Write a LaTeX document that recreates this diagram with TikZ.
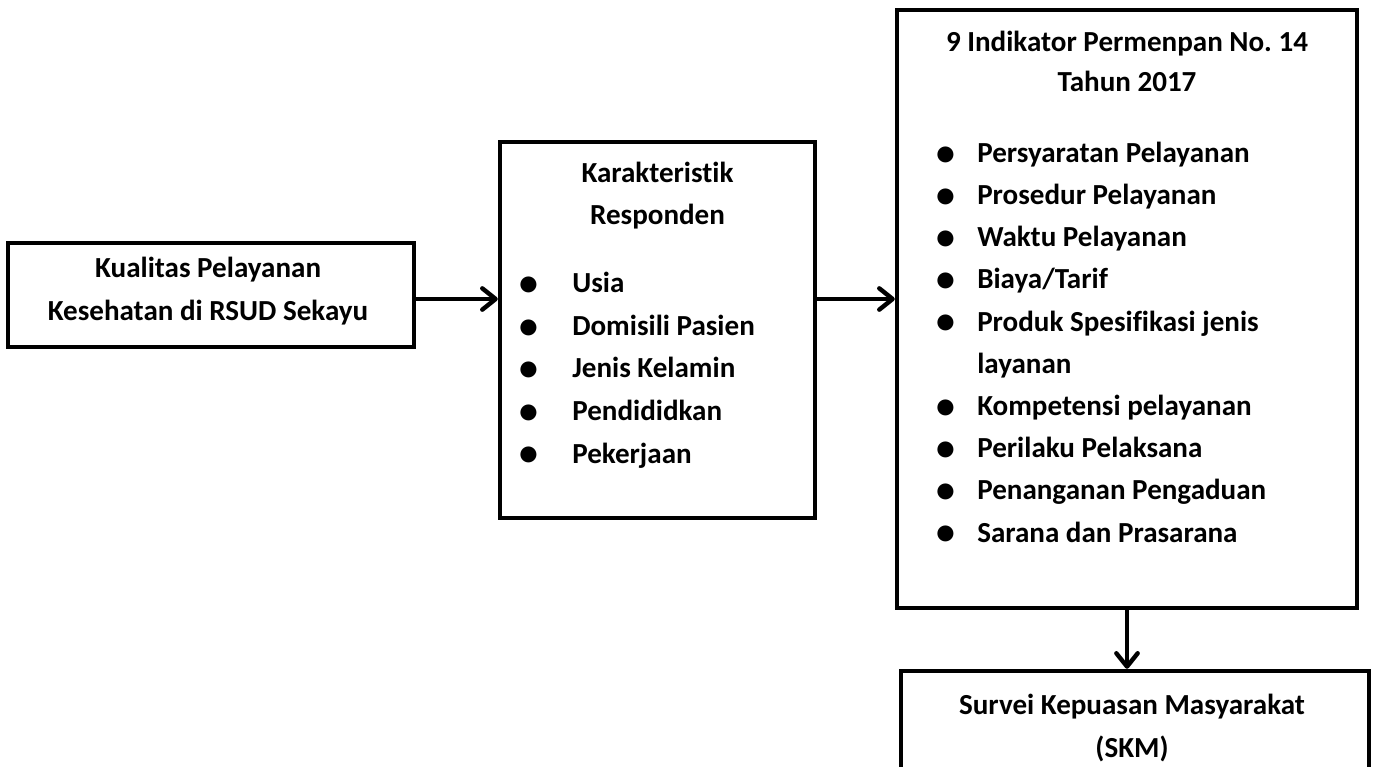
\documentclass[tikz,border=0pt]{standalone}
\usepackage{graphicx}
\usepackage{fontspec}
\setmainfont{Carlito}[Ligatures={NoCommon}]
\usetikzlibrary{arrows.meta}
\frenchspacing
\newcommand{\blt}[1]{\makebox[#1]{\raisebox{-0.1em}{\scalebox{1.3}{\textbullet}}}}
\begin{document}
\begin{tikzpicture}[x=0.75pt,y=-0.75pt,
  box/.style={draw=black, line width=3.3pt, rectangle, inner sep=0pt},
  txt/.style={inner sep=0pt, font=\fontsize{21.8}{#1}\selectfont\bfseries},
  txt/.default=32pt,
  conn/.style={line width=3.3pt, -{Straight Barb[length=10pt,width=16pt,round]}}]
\useasboundingbox (0,0) rectangle (1374,767);
\fill[white] (0,0) rectangle (1374,767);
% boxes
\node[box, minimum width=304.5pt, minimum height=78pt] (left) at (211,295) {};
\node[box, minimum width=236.25pt, minimum height=282pt] (mid) at (657.5,330) {};
\node[box, minimum width=345pt, minimum height=448.5pt] (right) at (1127,309) {};
\node[box, minimum width=351pt, minimum height=111.75pt] (bot) at (1135,745.5) {};
% texts (anchor base = baseline of the last line)
\node[txt, align=center, anchor=base] (t1) at (208,320) {Kualitas Pelayanan\\Kesehatan di RSUD Sekayu};
\node[txt=31.5pt, align=center, anchor=base] (t2) at (657.5,224) {Karakteristik\\Responden};
\node[txt=31.9pt, align=left, anchor=base west] (l2) at (486,463)
  {\blt{64.5pt}Usia\\\blt{64.5pt}Domisili Pasien\\\blt{64.5pt}Jenis Kelamin\\\blt{64.5pt}Pendididkan\\\blt{64.5pt}Pekerjaan};
\node[txt=30pt, align=center, anchor=base] (t3) at (1127,92) {9 Indikator Permenpan No. 14\\Tahun 2017};
\node[txt=31.65pt, align=left, anchor=base west] (l3) at (915,542)
  {\blt{46.5pt}Persyaratan Pelayanan\\\blt{46.5pt}Prosedur Pelayanan\\\blt{46.5pt}Waktu Pelayanan\\\blt{46.5pt}Biaya/Tarif\\\blt{46.5pt}Produk Spesifikasi jenis\\\hspace*{46.5pt}layanan\\\blt{46.5pt}Kompetensi pelayanan\\\blt{46.5pt}Perilaku Pelaksana\\\blt{46.5pt}Penanganan Pengaduan\\\blt{46.5pt}Sarana dan Prasarana};
\node[txt=32.25pt, align=center, anchor=base] (t4) at (1132,757) {Survei Kepuasan Masyarakat\\(SKM)};
% connectors
\coordinate (ay) at (0,299);
\draw[conn] (left.east |- ay) -- (mid.west |- ay);
\draw[conn] (mid.east |- ay) -- (right.west |- ay);
\draw[conn] (right.south) -- (bot.north -| right.south);
\end{tikzpicture}
\end{document}
